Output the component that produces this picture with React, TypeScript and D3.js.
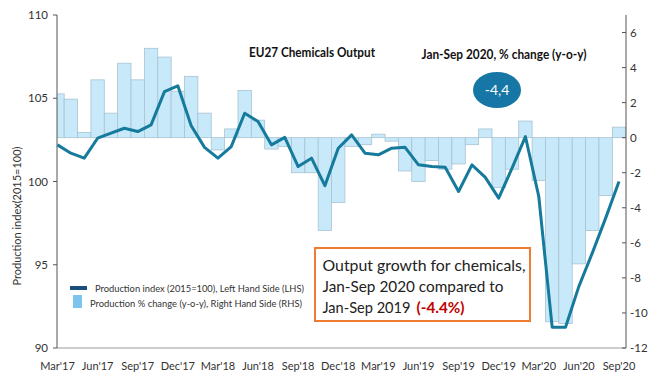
import React from "react";
import * as d3 from "d3";

const months = ["Mar'17","Apr'17","May'17","Jun'17","Jul'17","Aug'17","Sep'17","Oct'17","Nov'17","Dec'17",
  "Jan'18","Feb'18","Mar'18","Apr'18","May'18","Jun'18","Jul'18","Aug'18","Sep'18","Oct'18","Nov'18","Dec'18",
  "Jan'19","Feb'19","Mar'19","Apr'19","May'19","Jun'19","Jul'19","Aug'19","Sep'19","Oct'19","Nov'19","Dec'19",
  "Jan'20","Feb'20","Mar'20","Apr'20","May'20","Jun'20","Jul'20","Aug'20","Sep'20"];

const productionIndex = [102.2,101.7,101.4,102.6,102.9,103.2,103.0,103.4,105.4,105.75,
  103.35,102.05,101.4,102.1,104.1,103.6,102.2,102.65,100.9,101.4,99.75,102.0,
  102.8,101.7,101.6,102.0,102.05,101.0,100.9,100.85,99.4,101.0,100.25,99.0,
  100.8,102.7,99.1,91.25,91.25,93.7,95.7,97.8,100.0];

const pctChange = [2.5,2.2,0.3,3.3,1.4,4.25,3.3,5.1,4.6,2.65,
  3.5,1.4,-0.7,0.5,2.7,1.0,-0.65,-0.5,-2.0,-2.0,-5.3,-3.7,
  -0.5,-0.4,0.2,-0.2,-1.9,-2.5,-1.3,-1.8,-1.5,-0.4,0.5,-2.85,
  -1.8,0.95,-2.45,-10.5,-10.6,-7.2,-5.3,-3.3,0.6];

const leftTicks = [90, 95, 100, 105, 110];
const rightTicks = [-12, -10, -8, -6, -4, -2, 0, 2, 4, 6];
const xTickLabels = months.filter((_, i) => i % 3 === 0);

const FONT = "Lato, 'Open Sans', sans-serif";

export default function App() {
  const x = d3.scalePoint<string>().domain(months).range([57.5, 619]);
  const step = x.step();
  const yL = d3.scaleLinear().domain([90, 110]).range([348, 15]);
  const yR = d3.scaleLinear().domain([-12, 7]).range([348, 15]);
  const line = d3.line<number>().x((_, i) => x(months[i]) as number).y((d) => yL(d));

  const axL = 57, axR = 626, axB = 348, axT = 15;

  return (
    <svg width={660} height={376} style={{ position: "absolute", left: 0, top: 0, background: "#fff" }}>
      <defs>
        <clipPath id="plot">
          <rect x={axL} y={0} width={axR - axL} height={376} />
        </clipPath>
      </defs>
      {/* bars */}
      <g clipPath="url(#plot)">
        {pctChange.map((v, i) => {
          const cx = x(months[i]) as number;
          const y0 = yR(0), y1 = yR(v);
          return (
            <rect key={i} x={cx - step / 2} y={Math.min(y0, y1)} width={step} height={Math.abs(y1 - y0)}
              fill="#c8e9f9" stroke="#a8c3d2" strokeWidth={0.8} />
          );
        })}
      </g>
      {/* x axis */}
      <line x1={axL} x2={axR} y1={axB} y2={axB} stroke="#9a9a9a" strokeWidth={1} />
      {xTickLabels.map((m) => (
        <text key={m} x={x(m)} y={370} textAnchor="middle" fontFamily={FONT} fontSize={11} fill="#333">{m}</text>
      ))}
      {/* left axis */}
      <line x1={axL} x2={axL} y1={axT} y2={axB} stroke="#555" strokeWidth={1} />
      {leftTicks.map((t) => (
        <g key={t}>
          <line x1={axL - 4} x2={axL} y1={yL(t)} y2={yL(t)} stroke="#555" />
          <text x={48} y={yL(t) + 4} textAnchor="end" fontFamily={FONT} fontSize={11.5} fill="#333">{t}</text>
        </g>
      ))}
      {/* right axis */}
      <line x1={axR} x2={axR} y1={axT} y2={axB} stroke="#555" strokeWidth={1} />
      {rightTicks.map((t) => (
        <g key={t}>
          <line x1={axR - 4} x2={axR} y1={yR(t)} y2={yR(t)} stroke="#555" />
          <text x={630} y={yR(t) + 4} textAnchor="start" fontFamily={FONT} fontSize={11.5} fill="#333">{t}</text>
        </g>
      ))}
      {/* y axis title */}
      <text transform="translate(21,216) rotate(-90)" textAnchor="middle" fontFamily={FONT} fontSize={11} fill="#333">
        Production index(2015=100)
      </text>
      {/* line */}
      <path d={line(productionIndex) ?? ""} fill="none" stroke="#157a9c" strokeWidth={3} strokeLinejoin="round" />
      {/* titles */}
      <text x={312} y={57} textAnchor="middle" fontFamily={FONT} fontWeight="bold" fontSize={12.5} fill="#111"
        textLength={126} lengthAdjust="spacingAndGlyphs">EU27 Chemicals Output</text>
      <text x={504} y={59} textAnchor="middle" fontFamily={FONT} fontWeight="bold" fontSize={12.5} fill="#111"
        textLength={165} lengthAdjust="spacingAndGlyphs">Jan-Sep 2020, % change (y-o-y)</text>
      <ellipse cx={497} cy={90} rx={24} ry={18} fill="#1676a5" />
      <text x={497} y={95} textAnchor="middle" fontFamily={FONT} fontSize={14} fill="#fff">-4,4</text>
      {/* legend */}
      <rect x={70} y={286} width={17} height={4} fill="#1a4f7d" />
      <text x={95} y={291.5} fontFamily={FONT} fontSize={9} fill="#333" textLength={209} lengthAdjust="spacingAndGlyphs">
        Production index (2015=100),  Left Hand Side (LHS)
      </text>
      <rect x={73} y={295} width={9} height={13} fill="#7cc3ee" />
      <text x={90} y={307} fontFamily={FONT} fontSize={9} fill="#333" textLength={212} lengthAdjust="spacingAndGlyphs">
        Production % change (y-o-y), Right Hand Side (RHS)
      </text>
      {/* annotation box */}
      <rect x={315} y={248} width={215} height={73} fill="#fff" stroke="#ed7d31" strokeWidth={2} />
      <text x={322.5} y={271} fontFamily={FONT} fontSize={16} fill="#222" textLength={203} lengthAdjust="spacingAndGlyphs">
        Output growth for chemicals,
      </text>
      <text x={322.5} y={292} fontFamily={FONT} fontSize={16} fill="#222" textLength={181} lengthAdjust="spacingAndGlyphs">
        Jan-Sep 2020 compared to
      </text>
      <text x={322.5} y={313} fontFamily={FONT} fontSize={16} fill="#222" textLength={88} lengthAdjust="spacingAndGlyphs">
        Jan-Sep 2019
      </text>
      <text x={416.5} y={313} fontFamily={FONT} fontSize={16} fontWeight="bold" fill="#c00000" textLength={48} lengthAdjust="spacingAndGlyphs">
        (-4.4%)
      </text>
    </svg>
  );
}
